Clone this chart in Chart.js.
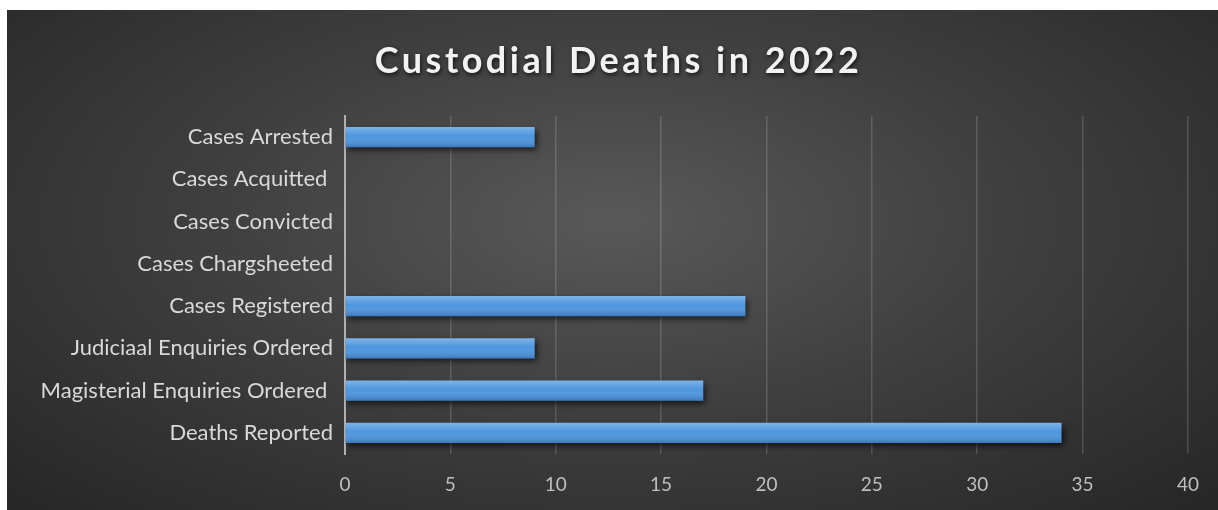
<!DOCTYPE html>
<html>
<head>
<meta charset="utf-8">
<script src="https://cdn.jsdelivr.net/npm/chart.js@4.4.0/dist/chart.umd.min.js"></script>
<style>
  html, body { margin: 0; padding: 0; background: #fff; }
  #wrap {
    position: absolute; left: 7px; top: 10px; width: 1211px; height: 500px;
    background: radial-gradient(ellipse farthest-corner at 50% 42%, #595959 0%, #404040 45%, #262626 100%);
  }
</style>
</head>
<body>
<div id="wrap"><canvas id="chart" width="1211" height="500"></canvas></div>
<script>
// Custodial deaths data
const categories = [
    'Cases Arrested',
    'Cases Acquitted ',
    'Cases Convicted',
    'Cases Chargsheeted',
    'Cases Registered',
    'Judiciaal Enquiries Ordered',
    'Magisterial Enquiries Ordered ',
    'Deaths Reported'
];
const counts = [9, 0, 0, 0, 19, 9, 17, 34];
const xTicks = [0, 5, 10, 15, 20, 25, 30, 35, 40];
const titleText = 'Custodial Deaths in 2022';

const FONT = 'Lato, "Open Sans", sans-serif';

// title with letter spacing + soft shadow
const titlePlugin = {
    id: 'spacedTitle',
    afterDraw(chart) {
        const ctx = chart.ctx;
        ctx.save();
        ctx.font = 'bold 36px ' + FONT;
        ctx.letterSpacing = '3.5px';
        ctx.textAlign = 'center';
        ctx.textBaseline = 'middle';
        ctx.shadowColor = 'rgba(0,0,0,0.7)';
        ctx.shadowBlur = 4;
        ctx.shadowOffsetX = 1;
        ctx.shadowOffsetY = 2;
        ctx.fillStyle = '#f2f2f2';
        ctx.fillText(titleText, chart.width / 2 + 6, 51);
        ctx.restore();
    }
};

// drop shadow under the bars, then a light/dark sheen on top of them
const barStyle = {
    id: 'barStyle',
    beforeDatasetsDraw(chart) {
        const ctx = chart.ctx;
        ctx.save();
        ctx.shadowColor = 'rgba(0,0,0,0.65)';
        ctx.shadowBlur = 6;
        ctx.shadowOffsetX = 2;
        ctx.shadowOffsetY = 3;
    },
    afterDatasetsDraw(chart) {
        const ctx = chart.ctx;
        ctx.restore();
        const meta = chart.getDatasetMeta(0);
        meta.data.forEach(bar => {
            const p = bar.getProps(['x', 'y', 'base', 'height'], true);
            if (p.x - p.base < 1) return;
            const top = p.y - p.height / 2, bot = p.y + p.height / 2;
            const g = ctx.createLinearGradient(0, top, 0, bot);
            g.addColorStop(0, 'rgba(255,255,255,0.28)');
            g.addColorStop(0.45, 'rgba(255,255,255,0.0)');
            g.addColorStop(1, 'rgba(0,30,80,0.25)');
            ctx.save();
            ctx.fillStyle = g;
            ctx.fillRect(p.base, top, p.x - p.base, bot - top);
            ctx.restore();
        });
    }
};

const config = {
    type: 'bar',
    data: {
        labels: categories,
        datasets: [{
            data: counts,
            backgroundColor: '#4d96df',
            borderWidth: 0,
            categoryPercentage: 0.5,
            barPercentage: 0.95
        }]
    },
    options: {
        indexAxis: 'y',
        responsive: false,
        animation: false,
        layout: { padding: { top: 106, right: 25, bottom: 0, left: 0 } },
        plugins: {
            legend: { display: false },
            title: { display: false },
            tooltip: { enabled: false }
        },
        scales: {
            x: {
                min: 0, max: 40,
                afterBuildTicks: s => { s.ticks = xTicks.map(v => ({ value: v })); },
                afterFit: s => { s.height = 56; },
                grid: {
                    color: c => c.tick && c.tick.value === 0 ? 'rgba(0,0,0,0)' : 'rgba(255,255,255,0.16)',
                    lineWidth: 1.5,
                    drawTicks: false
                },
                border: { display: false },
                ticks: { color: '#bfbfbf', font: { family: FONT, size: 19 }, padding: 19 }
            },
            y: {
                afterFit: s => { s.width = 338; },
                grid: { display: false, drawTicks: false },
                border: { display: true, color: '#b0b0b0', width: 2 },
                ticks: { color: '#d9d9d9', font: { family: FONT, size: 22 }, padding: 12 }
            }
        }
    },
    plugins: [barStyle, titlePlugin]
};

window.addEventListener('DOMContentLoaded', () => {
    new Chart(document.getElementById('chart'), config);
});
</script>
</body>
</html>
